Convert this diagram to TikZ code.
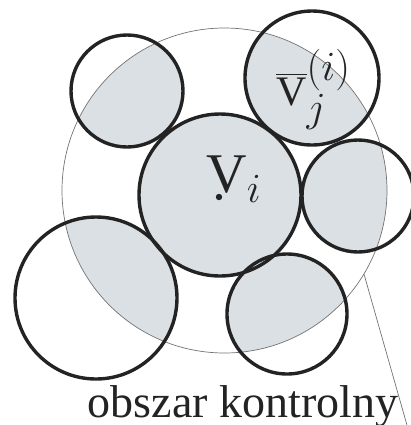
\documentclass[tikz,border=0pt]{standalone}
\usepackage{fontspec}
\setmainfont{Liberation Serif}
\usepackage{tikz}
\definecolor{cellgray}{RGB}{218,224,227}
\definecolor{rimgray}{RGB}{35,35,35}
\definecolor{thingray}{RGB}{115,115,115}
\tikzset{
  cellfill/.style={circle, fill=cellgray, inner sep=0pt},
  cell/.style={circle, draw=rimgray, line width=1.7pt, inner sep=0pt},
  area/.style={circle, draw=thingray, line width=0.35pt, inner sep=0pt},
  leader/.style={line width=0.35pt, color=thingray},
  lbl/.style={inner sep=0pt, text=rimgray},
}

\begin{document}
\begin{tikzpicture}[x=0.5pt, y=-0.5pt]
  \useasboundingbox (0,0) rectangle (411,425);
  % shaded parts: every cell cut by the control area
  \begin{scope}
    \clip (224.5,190.5) circle (81.25pt);
    \foreach \nm/\x/\y/\r in {vi/220/195/81, nw/127/91/56, ne/312/78/67,
                              e/358/196/56, se/287/314/60, sw/96/298/81}
      \node[cellfill, minimum size=\r pt] (fill-\nm) at (\x,\y) {};
  \end{scope}
  \node[area, minimum size=162.5pt] (ctrl) at (224.5,190.5) {};
  \foreach \nm/\x/\y/\r in {vi/220/195/81, nw/127/91/56, ne/312/78/67,
                            e/358/196/56, se/287/314/60, sw/96/298/81}
    \node[cell, minimum size=\r pt] (\nm) at (\x,\y) {};
  \node[circle, fill=rimgray, inner sep=0pt, minimum size=3.2pt] (dot) at (219,197) {};
  \node[lbl, anchor=base west, font=\fontsize{28}{32}\selectfont] (vilbl) at (206,192)
        {$\mathrm{V}_i$};
  \node[lbl, anchor=base west, font=\fontsize{21}{25}\selectfont] (vjlbl) at (276,105)
        {$\overline{\mathrm{V}}_{\textstyle j}^{\textstyle (i)}$};
  \node[lbl, anchor=base, font=\fontsize{23}{27}\selectfont] (caption) at (243,417)
        {obszar kontrolny};
  \draw[leader] (ctrl.-31.5) -- ([xshift=4.5pt]caption.south east);
\end{tikzpicture}
\end{document}
